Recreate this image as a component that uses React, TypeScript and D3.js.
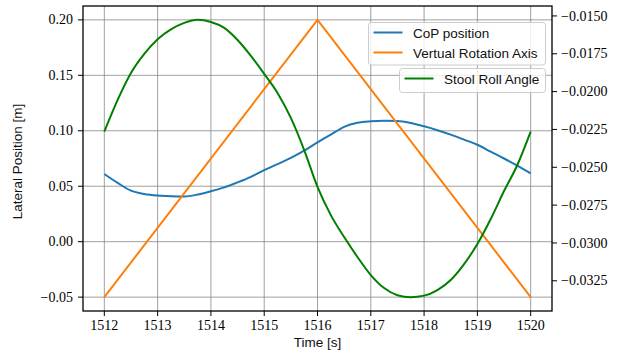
import * as d3 from "d3";

// sampled times [s]
const times = [
  1512, 1512.25, 1512.5, 1512.75, 1513, 1513.25, 1513.5, 1513.75,
  1514, 1514.25, 1514.5, 1514.75, 1515, 1515.25, 1515.5, 1515.75,
  1516, 1516.25, 1516.5, 1516.75, 1517, 1517.25, 1517.5, 1517.75,
  1518, 1518.25, 1518.5, 1518.75, 1519, 1519.25, 1519.5, 1519.75, 1520,
];

// CoP position [m]
const copPosition = [
  0.061, 0.053, 0.046, 0.043, 0.0416, 0.041, 0.0408, 0.0425,
  0.0455, 0.049, 0.0535, 0.0585, 0.0645, 0.07, 0.0755, 0.082,
  0.0895, 0.0965, 0.1035, 0.1072, 0.1085, 0.109, 0.1088, 0.107,
  0.104, 0.1005, 0.0965, 0.092, 0.0874, 0.0812, 0.075, 0.0685, 0.0615,
];

// virtual rotation axis [m]
const axisTimes = [1512, 1516, 1520];
const axisPosition = [-0.05, 0.2, -0.05];

// stool roll angle (right axis)
const rollAngle = [
  -0.02265, -0.02055, -0.01877, -0.01751, -0.01654, -0.01589, -0.01546, -0.01526,
  -0.0154, -0.01579, -0.01659, -0.01764, -0.01883, -0.02009, -0.02174, -0.02386,
  -0.02629, -0.02816, -0.02961, -0.03093, -0.03212, -0.03298, -0.03345, -0.03358,
  -0.03348, -0.03311, -0.03245, -0.0314, -0.03007, -0.02842, -0.02657, -0.02485, -0.02265,
];

const xTicks = [1512, 1513, 1514, 1515, 1516, 1517, 1518, 1519, 1520];
const leftTicks = [-0.05, 0, 0.05, 0.1, 0.15, 0.2];
const rightTicks = [-0.0325, -0.03, -0.0275, -0.025, -0.0225, -0.02, -0.0175, -0.015];

const width = 630;
const height = 356;
const marginTop = 6;
const marginRight = 78;
const marginBottom = 45;
const marginLeft = 83;

const serif = "'Liberation Serif', 'DejaVu Serif', serif";
const sans = "'Liberation Sans', Arial, sans-serif";
const tickSize = 14;

const pad = ([a, b]: number[]) => {
  const m = (b - a) * 0.05;
  return [a - m, b + m];
};
const fmt = (v: number, d: number) => (v < 0 ? "\u2212" : "") + Math.abs(v).toFixed(d);

export default function App() {
  const x = d3.scaleLinear(pad([1512, 1520]), [marginLeft, width - marginRight]);
  const yL = d3.scaleLinear(
    pad(d3.extent([...copPosition, ...axisPosition]) as number[]),
    [height - marginBottom, marginTop]
  );
  const yR = d3.scaleLinear(pad(d3.extent(rollAngle) as number[]), [height - marginBottom, marginTop]);

  const cop = d3.line<number>().x((_, i) => x(times[i])).y((d) => yL(d)).curve(d3.curveMonotoneX);
  const axisLine = d3.line<number>().x((_, i) => x(axisTimes[i])).y((d) => yL(d));
  const roll = d3.line<number>().x((_, i) => x(times[i])).y((d) => yR(d)).curve(d3.curveMonotoneX);

  const x0 = marginLeft, x1 = width - marginRight;
  const y0 = marginTop, y1 = height - marginBottom;

  return (
    <svg width={width} height={height} style={{ position: "absolute", left: 0, top: 0, background: "#fff" }}>
      {/* grid */}
      <g stroke="#808080" strokeOpacity={0.75} strokeWidth={1}>
        {xTicks.map((t) => <line key={"gx" + t} x1={x(t)} x2={x(t)} y1={y0} y2={y1} />)}
        {leftTicks.map((t) => <line key={"gy" + t} x1={x0} x2={x1} y1={yL(t)} y2={yL(t)} />)}
      </g>

      <g fill="none" strokeWidth={2} strokeLinejoin="round">
        <path d={cop(copPosition) ?? ""} stroke="#1f77b4" />
        <path d={axisLine(axisPosition) ?? ""} stroke="#ff7f0e" />
        <path d={roll(rollAngle) ?? ""} stroke="#008000" />
      </g>

      {/* frame */}
      <rect x={x0} y={y0} width={x1 - x0} height={y1 - y0} fill="none" stroke="#000" strokeWidth={1.3} />

      {/* x axis */}
      <g fontFamily={serif} fontSize={tickSize} textAnchor="middle">
        {xTicks.map((t) => (
          <g key={"xt" + t}>
            <line x1={x(t)} x2={x(t)} y1={y1} y2={y1 + 5} stroke="#000" strokeWidth={1} />
            <text x={x(t)} y={y1 + 19}>{t}</text>
          </g>
        ))}
      </g>
      {/* left axis */}
      <g fontFamily={serif} fontSize={tickSize} textAnchor="end">
        {leftTicks.map((t) => (
          <g key={"lt" + t}>
            <line x1={x0 - 5} x2={x0} y1={yL(t)} y2={yL(t)} stroke="#000" strokeWidth={1} />
            <text x={x0 - 10} y={yL(t)} dy="0.33em">{fmt(t, 2)}</text>
          </g>
        ))}
      </g>
      {/* right axis */}
      <g fontFamily={serif} fontSize={tickSize} textAnchor="start">
        {rightTicks.map((t) => (
          <g key={"rt" + t}>
            <line x1={x1} x2={x1 + 5} y1={yR(t)} y2={yR(t)} stroke="#000" strokeWidth={1} />
            <text x={x1 + 9} y={yR(t)} dy="0.33em">{fmt(t, 4)}</text>
          </g>
        ))}
      </g>

      <text x={(x0 + x1) / 2} y={347} textAnchor="middle" fontFamily={sans} fontSize={13.5} fill="#111">Time [s]</text>
      <text transform={`translate(22, ${(y0 + y1) / 2 + 3}) rotate(-90)`} textAnchor="middle" fontFamily={sans} fontSize={13.5} fill="#111">
        Lateral Position [m]
      </text>

      {/* legend 1 */}
      <g fontFamily={sans} fontSize={13.5} fill="#111">
        <rect x={368.5} y={22.5} width={177} height={42.5} rx={3} fill="#fff" fillOpacity={0.8} stroke="#ccc" />
        <line x1={373.5} x2={402.5} y1={32.5} y2={32.5} stroke="#1f77b4" strokeWidth={2} />
        <text x={413} y={37.5}>CoP position</text>
        <line x1={373.5} x2={402.5} y1={52.5} y2={52.5} stroke="#ff7f0e" strokeWidth={2} />
        <text x={413} y={57.5}>Vertual Rotation Axis</text>
      </g>
      {/* legend 2 */}
      <g fontFamily={sans} fontSize={13.5} fill="#111">
        <rect x={399.5} y={68.5} width={146} height={24} rx={3} fill="#fff" fillOpacity={0.8} stroke="#ccc" />
        <line x1={404.5} x2={433.5} y1={78.5} y2={78.5} stroke="#008000" strokeWidth={2} />
        <text x={444} y={83.5}>Stool Roll Angle</text>
      </g>
    </svg>
  );
}
